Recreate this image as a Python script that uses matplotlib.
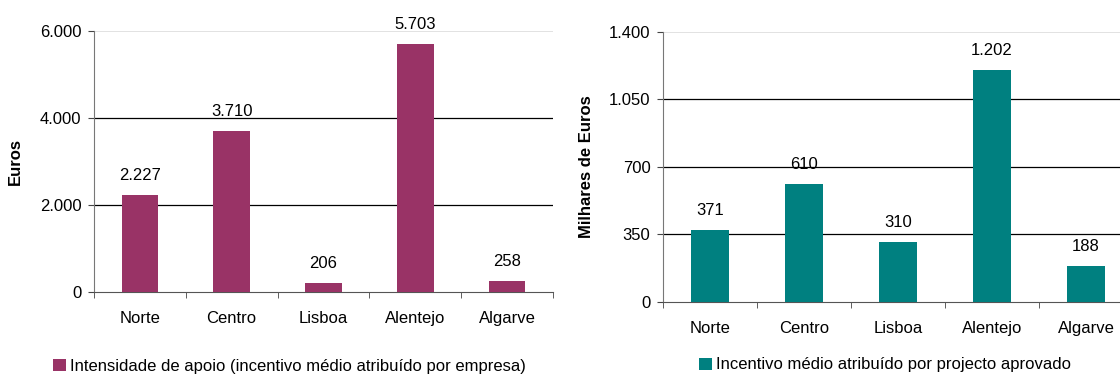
import matplotlib
matplotlib.use('Agg')
import matplotlib.pyplot as plt
import numpy as np

plt.rcParams['font.family'] = ['Liberation Sans', 'DejaVu Sans']

regioes = ['Norte', 'Centro', 'Lisboa', 'Alentejo', 'Algarve']
intensidade = [2227, 3710, 206, 5703, 258]
incentivo = [371, 610, 310, 1202, 188]


def fmt(v):
    return '{:,}'.format(v).replace(',', '.')


fig = plt.figure(figsize=(11.2, 3.74), dpi=100)
ax1 = fig.add_axes([0.0839, 0.2193, 0.4098, 0.698])
ax2 = fig.add_axes([0.592, 0.1925, 0.4196, 0.722])


def painel(ax, vals, cor, ymax, passo, ylabel, legenda, off, leg_pos, lpad):
    x = np.arange(len(regioes))
    bars = ax.bar(x, vals, width=0.4, color=cor, zorder=3)
    ax.set_xlim(-0.5, len(regioes) - 0.5)
    ax.set_ylim(0, ymax)
    yt = np.arange(0, ymax + 1, passo)
    ax.set_yticks(yt)
    ax.set_yticklabels([fmt(int(v)) for v in yt], fontsize=12)
    for v in yt[1:-1]:
        ax.axhline(v, color='black', lw=0.9, zorder=1)
    ax.axhline(ymax, color='#dddddd', lw=1.2, zorder=1)
    ax.set_xticks(x)
    ax.set_xticklabels(regioes, fontsize=12)
    ax.set_xticks(np.arange(len(regioes) + 1) - 0.5, minor=True)
    ax.tick_params(axis='x', which='major', length=0, pad=14)
    ax.tick_params(axis='x', which='minor', length=4, color='#444444')
    ax.tick_params(axis='y', length=4, color='#444444', pad=5)
    for s in ['top', 'right']:
        ax.spines[s].set_visible(False)
    ax.spines['left'].set_color('#777777')
    ax.spines['bottom'].set_color('#555555')
    for b, v in zip(bars, vals):
        ax.text(b.get_x() + b.get_width() / 2, v + off, fmt(v),
                ha='center', va='bottom', fontsize=12)
    ax.set_ylabel(ylabel, fontsize=12, fontweight='bold', labelpad=lpad)
    fig.legend([bars[0]], [legenda], loc='center left', frameon=False,
               bbox_to_anchor=leg_pos, fontsize=12,
               handlelength=0.75, handleheight=0.75, handletextpad=0.3,
               borderaxespad=0, borderpad=0)


painel(ax1, intensidade, '#993366', 6000, 2000, 'Euros',
       'Intensidade de apoio (incentivo médio atribuído por empresa)', 270,
       (53 / 1120, 1 - 366 / 374), 12)
painel(ax2, incentivo, '#008080', 1400, 350, 'Milhares de Euros',
       'Incentivo médio atribuído por projecto aprovado', 62,
       (699 / 1120, 1 - 365 / 374), 11)

fig.savefig('out.png', dpi=100)
